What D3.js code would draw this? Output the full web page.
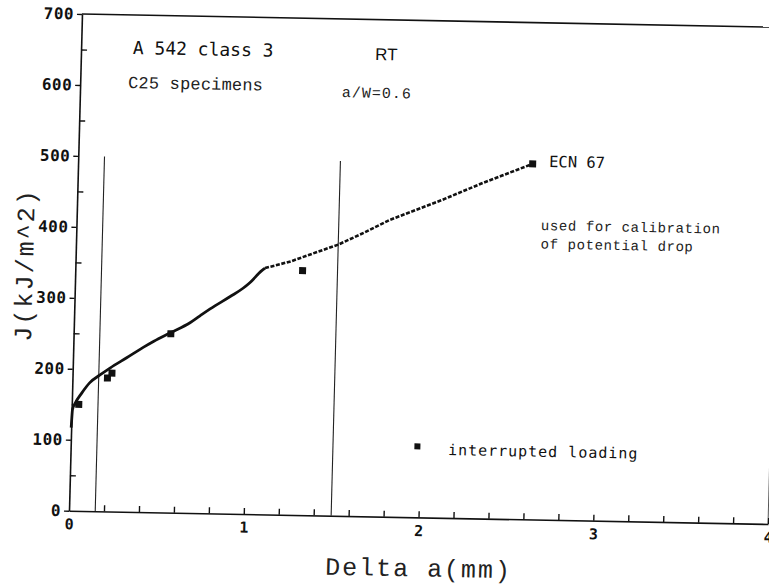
<!DOCTYPE html>
<html>
<head>
<meta charset="utf-8">
<script src="https://cdn.jsdelivr.net/npm/d3@7"></script>
<style>
    body { margin: 0; background: #fff; }
    svg { display: block; background: #fff; }
    .mono { font-family: 'DejaVu Sans Mono', monospace; fill: #111; }
    .thin { font-family: 'Liberation Mono', 'DejaVu Sans Mono', monospace; fill: #222; }
</style>
</head>
<body>
<div class="chart"></div>
<script>
// crack growth (mm) / J (kJ/m^2) - solid part of the recorded curve
var solidA = [0, 0.002, 0.005, 0.018, 0.055, 0.10, 0.157, 0.213, 0.307, 0.40, 0.46, 0.55, 0.664, 0.72, 0.777, 0.89, 0.962, 1.0, 1.065, 1.085];
var solidJ = [117, 130, 143, 151, 166, 181, 192, 202, 217, 232, 241, 253, 268, 278, 288, 306, 318, 326, 343, 347];

// dotted part of the curve (potential drop)
var dotA = [1.085, 1.23, 1.38, 1.50, 1.65, 1.79, 1.95, 2.09, 2.20, 2.32, 2.42, 2.51, 2.60];
var dotJ = [347, 357, 371, 382, 400, 418, 434, 448, 460, 473, 483, 492, 501];

// interrupted loading points
var markA = [0.04, 0.20, 0.225, 0.556, 1.30, 2.60];
var markJ = [150, 188, 195, 252, 344.5, 501];

// exclusion lines
var exclA = [0.15, 1.5];
var exclTop = 500;

// ticks
var xMajor = [0, 1, 2, 3, 4];
var xMinor = [0.2, 0.4, 0.6, 0.8, 1.2, 1.4, 1.6, 1.8, 2.2, 2.4, 2.6, 2.8, 3.2, 3.4, 3.6, 3.8];
var yMajor = [0, 100, 200, 300, 400, 500, 600, 700];
var yMinor = [50, 150, 250, 350, 450, 550, 650];

var width = 700, height = 496;

var svg = d3.select('.chart').append('svg')
    .attr('width', 769)
    .attr('height', 588);

// the scanned plot is slightly skewed, so the whole frame is too
var g = svg.append('g')
    .attr('transform', 'matrix(0.9986,0.019,-0.0262,1.0014,82,14)');

var x = d3.scaleLinear().domain([0, 4]).range([0, width]);
var y = d3.scaleLinear().domain([0, 700]).range([height, 0]);

var zip = function (a, b) { return a.map(function (v, i) { return [v, b[i]]; }); };

// frame top + right
g.append('line')
    .attr('x1', x(0)).attr('y1', y(700)).attr('x2', x(4)).attr('y2', y(700))
    .attr('stroke', '#111').attr('stroke-width', 1.6);
g.append('line')
    .attr('x1', x(4)).attr('y1', y(700)).attr('x2', x(4)).attr('y2', y(0))
    .attr('stroke', '#555').attr('stroke-width', 1);

// y axis: major ticks outside, minor inside
var yAxis = g.append('g')
    .call(d3.axisLeft(y).tickValues(yMajor).tickSize(5).tickSizeOuter(0).tickPadding(3));
yAxis.select('.domain').attr('stroke', '#111').attr('stroke-width', 1.6);
yAxis.selectAll('.tick line').attr('stroke', '#111').attr('stroke-width', 1.4);
yAxis.selectAll('.tick text')
    .attr('class', 'mono')
    .style('font-size', '16px')
    .style('font-weight', 'bold')
    .style('letter-spacing', '0.5px');

var yMin = g.append('g')
    .call(d3.axisRight(y).tickValues(yMinor).tickSize(6).tickFormat(''));
yMin.select('.domain').remove();
yMin.selectAll('.tick line').attr('stroke', '#111').attr('stroke-width', 1.4);

// x axis: ticks pointing up
var xAxis = g.append('g')
    .attr('transform', 'translate(0,' + height + ')')
    .call(d3.axisTop(x).tickValues(xMinor.concat(xMajor.slice(1))).tickSize(6).tickSizeOuter(0).tickFormat(''));
xAxis.select('.domain').attr('stroke', '#111').attr('stroke-width', 1.6);
xAxis.selectAll('.tick line').attr('stroke', '#111').attr('stroke-width', 1.4);

var xLab = g.append('g')
    .attr('transform', 'translate(0,' + height + ')')
    .call(d3.axisBottom(x).tickValues(xMajor).tickFormat(d3.format('d')).tickSize(0).tickPadding(8));
xLab.select('.domain').remove();
xLab.selectAll('.tick text')
    .attr('class', 'mono')
    .style('font-size', '15px')
    .style('font-weight', 'bold');

// exclusion lines
g.selectAll('.excl')
    .data(exclA)
    .enter().append('line')
    .attr('class', 'excl')
    .attr('x1', function (d) { return x(d); })
    .attr('x2', function (d) { return x(d); })
    .attr('y1', y(0))
    .attr('y2', y(exclTop))
    .attr('stroke', '#222')
    .attr('stroke-width', 1.1);

var line = d3.line()
    .x(function (d) { return x(d[0]); })
    .y(function (d) { return y(d[1]); });

g.append('path')
    .datum(zip(solidA, solidJ))
    .attr('d', line.curve(d3.curveMonotoneX))
    .attr('fill', 'none')
    .attr('stroke', '#111')
    .attr('stroke-width', 2.8)
    .attr('stroke-linejoin', 'round');

g.append('path')
    .datum(zip(dotA, dotJ))
    .attr('d', line.curve(d3.curveLinear))
    .attr('fill', 'none')
    .attr('stroke', '#111')
    .attr('stroke-width', 2.6)
    .attr('stroke-dasharray', '4,1.6');

// markers
g.selectAll('.mark')
    .data(zip(markA, markJ))
    .enter().append('rect')
    .attr('class', 'mark')
    .attr('x', function (d) { return x(d[0]) - 3.5; })
    .attr('y', function (d) { return y(d[1]) - 3.5; })
    .attr('width', 7)
    .attr('height', 7)
    .attr('fill', '#111');

// legend
g.append('rect')
    .attr('x', x(1.983) - 3).attr('y', y(100) - 3)
    .attr('width', 6).attr('height', 6)
    .attr('fill', '#111');
g.append('text').attr('class', 'mono')
    .attr('x', x(2.159)).attr('y', y(88.6))
    .style('font-size', '15px').style('letter-spacing', '1px')
    .text('interrupted loading');

// annotations
g.append('text').attr('class', 'mono')
    .attr('x', x(0.296)).attr('y', y(645))
    .style('font-size', '18px')
    .text('A 542 class 3');
g.append('text').attr('class', 'thin')
    .attr('x', x(0.274)).attr('y', y(597))
    .style('font-size', '17px').style('letter-spacing', '0.2px')
    .text('C25 specimens');
g.append('text')
    .attr('x', x(1.683)).attr('y', y(643))
    .style('font-family', 'Liberation Sans, sans-serif').style('font-size', '17px').style('fill', '#111')
    .text('RT');
g.append('text').attr('class', 'thin')
    .attr('x', x(1.498)).attr('y', y(590))
    .style('font-size', '15px').style('letter-spacing', '1px')
    .text('a/W=0.6');
g.append('text').attr('class', 'mono')
    .attr('x', x(2.694)).attr('y', y(497))
    .style('font-size', '15.5px')
    .text('ECN 67');
g.append('text').attr('class', 'thin')
    .attr('x', x(2.656)).attr('y', y(408))
    .style('font-size', '14px').style('letter-spacing', '0.6px')
    .text('used for calibration');
g.append('text').attr('class', 'thin')
    .attr('x', x(2.658)).attr('y', y(382))
    .style('font-size', '14px').style('letter-spacing', '0.6px')
    .text('of potential drop');

// axis titles
g.append('text').attr('class', 'thin')
    .attr('x', x(1.474)).attr('y', height + 59)
    .style('font-size', '25px').style('letter-spacing', '2px')
    .text('Delta a(mm)');
g.append('text').attr('class', 'thin')
    .attr('transform', 'translate(-42.5,' + y(345) + ') rotate(-90)')
    .attr('text-anchor', 'middle')
    .style('font-size', '25px').style('letter-spacing', '2px')
    .text('J(kJ/m^2)');
</script>
</body>
</html>
